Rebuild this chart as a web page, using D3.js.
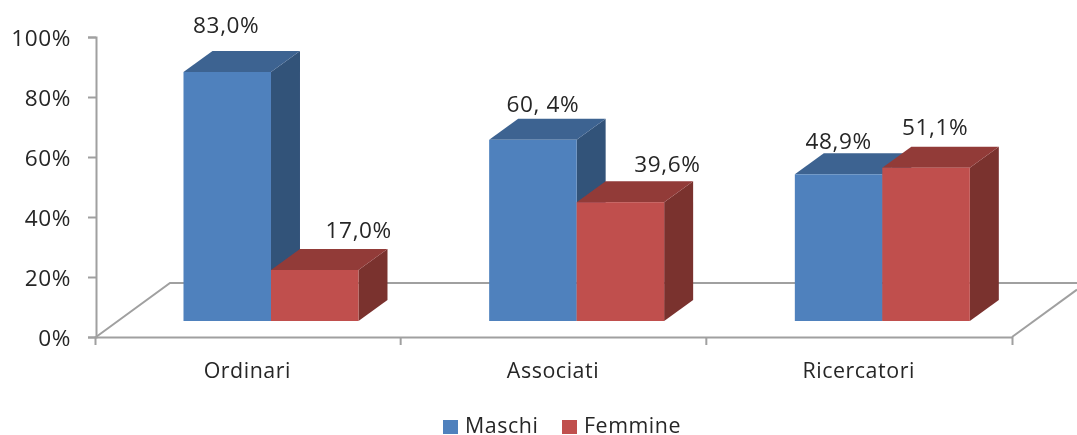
<!DOCTYPE html>
<html><head><meta charset="utf-8">
<script src="https://cdn.jsdelivr.net/npm/d3@7/dist/d3.min.js"></script>
<style>
html,body{margin:0;padding:0;background:#fff}
svg{display:block}
text{font-family:"Open Sans",sans-serif;font-size:21.4px;fill:#262626;letter-spacing:.55px}
text.num{font-size:22.6px;letter-spacing:.6px}
</style></head><body>
<svg id="c" width="1077" height="435"></svg>
<script>
const categories = ["Ordinari","Associati","Ricercatori"];
const seriesNames = ["Maschi","Femmine"];
const maschi = [83.0,60.4,48.9];
const femmine = [17.0,39.6,51.1];
const maschiLabels = ["83,0%","60, 4%","48,9%"];
const femmineLabels = ["17,0%","39,6%","51,1%"];
const yTicks = [0,20,40,60,80,100];

const colors = {
  Maschi:{front:"#4F81BD",top:"#3D6391",side:"#325279"},
  Femmine:{front:"#C0504D",top:"#923B39",side:"#7A302E"}
};
const axisColor = "#a0a0a0";
// hand-placed label offsets from each bar's front-top-centre (dx, dy to baseline)
const labelOffsets = {
  Maschi:[[-1,-39],[10,-28],[0,-25]],
  Femmine:[[44,-32],[47,-30],[9,-33]]
};

const svg = d3.select("#c");
const defs = svg.append("defs");
defs.append("filter").attr("id","soft").attr("x","-5%").attr("y","-5%").attr("width","110%").attr("height","110%")
  .append("feGaussianBlur").attr("stdDeviation",0.45);
const root = svg.append("g").attr("filter","url(#soft)");

const y = d3.scaleLinear().domain([0,100]).range([337,37]);
const x0 = d3.scaleBand().domain(categories).range([95,1012]);
const x1 = d3.scaleBand().domain(seriesNames).range([x0.bandwidth()*0.2895,x0.bandwidth()*0.862]);
const base = y(0)-16;
const barBottom = v => y(v)-16;
const depth = {dx:29,dy:-21};
const floor = {dx:74,y:y(18)};

// floor
root.append("path")
  .attr("d",`M${x0.range()[0]+1},${y(0)}L${x0.range()[0]+floor.dx+1},${floor.y}H1077`)
  .attr("fill","none").attr("stroke",axisColor).attr("stroke-width",2);
root.append("path")
  .attr("d",`M${x0.range()[1]},${y(0)}L1077,${y(0)-(1077-x0.range()[1])*54/74}`)
  .attr("fill","none").attr("stroke",axisColor).attr("stroke-width",2);

// axes
const yAxis = d3.axisLeft(y).tickValues(yTicks).tickSize(8).tickFormat(d=>d+"%");
const gy = root.append("g").attr("transform","translate(96,0)").call(yAxis);
gy.selectAll("path,line").attr("stroke",axisColor).attr("stroke-width",2);
gy.selectAll("text").attr("class","num").attr("x",-25).attr("dy",".36em");

const xAxis = d3.axisBottom(x0).tickSize(0).tickSizeOuter(8).tickFormat(d=>d);
const gx = root.append("g").attr("transform",`translate(0,${y(0)})`).call(xAxis);
gx.select("path").attr("stroke",axisColor).attr("stroke-width",2);
gx.selectAll("text").attr("y",41).attr("dy",0).attr("dx",-0.5);
// category boundary ticks
root.append("g").selectAll("line").data(categories.slice(1)).join("line")
  .attr("x1",d=>x0(d)).attr("x2",d=>x0(d)).attr("y1",y(0)).attr("y2",y(0)+8)
  .attr("stroke",axisColor).attr("stroke-width",2);

// bars
const series = [
  {name:"Maschi",values:maschi,labels:maschiLabels},
  {name:"Femmine",values:femmine,labels:femmineLabels}
];
const bw = x1.bandwidth();
categories.forEach((cat,i)=>{
  const g = root.append("g").attr("transform",`translate(${x0(cat)},0)`);
  series.forEach(s=>{
    const c = colors[s.name], xx = x1(s.name), t = barBottom(s.values[i]);
    g.append("path").attr("fill",c.side)
      .attr("d",`M${xx+bw},${t}l${depth.dx},${depth.dy}V${base+depth.dy}l${-depth.dx},${-depth.dy}Z`);
    g.append("path").attr("fill",c.top)
      .attr("d",`M${xx},${t}l${depth.dx},${depth.dy}h${bw}l${-depth.dx},${-depth.dy}Z`);
    g.append("rect").attr("x",xx).attr("y",t).attr("width",bw).attr("height",base-t).attr("fill",c.front);
  });
});
// labels on top of all bars
categories.forEach((cat,i)=>{
  series.forEach(s=>{
    const off = labelOffsets[s.name][i];
    root.append("text").attr("class","num").attr("text-anchor","middle")
      .attr("x",x0(cat)+x1(s.name)+bw/2+off[0])
      .attr("y",barBottom(s.values[i])+off[1])
      .text(s.labels[i]);
  });
});

// legend
const legendX = {Maschi:443,Femmine:562};
seriesNames.forEach(n=>{
  root.append("rect").attr("x",legendX[n]).attr("y",420).attr("width",15).attr("height",14).attr("fill",colors[n].front);
  root.append("text").attr("x",legendX[n]+22).attr("y",433).text(n);
});
</script>
</body></html>
